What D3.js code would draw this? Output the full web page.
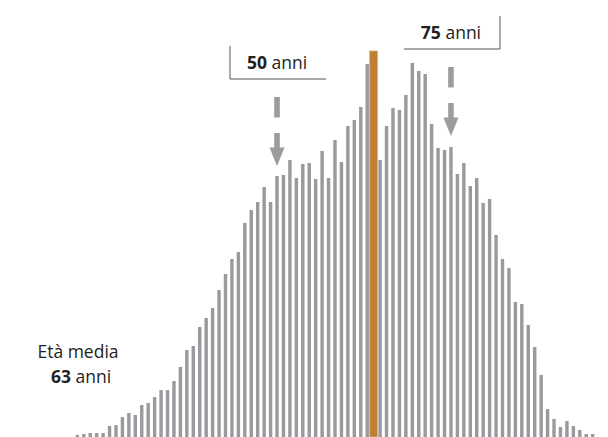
<!DOCTYPE html>
<html>
<head>
<meta charset="utf-8">
<script src="https://cdn.jsdelivr.net/npm/d3@7"></script>
<style>
  html, body { margin: 0; padding: 0; background: #fff; }
  svg { display: block; font-family: "Open Sans", "Noto Sans", sans-serif; }
</style>
</head>
<body>
<svg id="chart" width="608" height="437"></svg>
<script>
// Ages (one bar per year)
const ages = [17,18,19,20,21,22,23,24,25,26,27,28,29,30,31,32,33,34,35,36,37,38,39,40,
  41,42,43,44,45,46,47,48,49,50,51,52,53,54,55,56,57,58,59,60,61,62,63,64,65,66,67,68,
  69,70,71,72,73,74,75,76,77,78,79,80,81,82,83,84,85,86,87,88,89,90,91,92,93,94,95,96,97];
// Relative frequency for each age (arbitrary units)
const counts = [2,3,4,4,4,11,12,20,24,22,32,34,40,47,47,56,70,87,91,110,119,129,147,163,
  178,185,214,227,235,250,235,261,262,277,259,273,274,258,286,259,297,275,311,317,330,373,
  386,277,311,329,327,342,374,366,363,313,289,287,290,263,274,251,259,234,238,202,178,169,
  135,133,112,90,62,28,18,10,16,11,7,3,3];
const meanAge = 63;
const meanLabel = ["Età media", "63", " anni"];
// Annotations: age pointed at, label, level of the arrow tip (same units as counts)
const annoAges = [48, 75];
const annoLabels = ["50", "75"];
const annoLevels = [271, 301];
const annoSides = ["left", "right"];

const W = 608, H = 437;
const svg = d3.select("#chart");

const x = d3.scaleBand().domain(ages).range([74.1, 595.9]).paddingInner(0.47).paddingOuter(0.235);
const y = d3.scaleLinear().domain([0, 386]).range([437, 51]);

const grey = "#9a9a9e";
const data = ages.map((a, i) => ({age: a, v: counts[i]}));

svg.append("g").selectAll("rect")
  .data(data.filter(d => d.age !== meanAge))
  .join("rect")
  .attr("x", d => x(d.age))
  .attr("y", d => y(d.v))
  .attr("width", x.bandwidth())
  .attr("height", d => y(0) - y(d.v))
  .attr("fill", grey);

// Mean bar highlighted
const md = data.find(d => d.age === meanAge);
const mcx = x(meanAge) + x.bandwidth() / 2;
svg.append("rect")
  .attr("x", mcx - 4)
  .attr("y", y(md.v))
  .attr("width", 8)
  .attr("height", y(0) - y(md.v))
  .attr("fill", "#c17f35")
  .attr("stroke", "#dcb080")
  .attr("stroke-width", 0.8);

// Annotations
const ann = svg.append("g");
annoAges.forEach((a, i) => {
  const cx = x(a) + x.bandwidth() / 2;
  const tip = y(annoLevels[i]);
  const aCol = "#9c9ca0";
  // arrow head
  ann.append("path")
    .attr("d", `M${cx - 7.5},${tip - 18.5} L${cx + 7.5},${tip - 18.5} L${cx},${tip} Z`)
    .attr("fill", aCol);
  // shaft pieces (dashed)
  ann.append("rect").attr("x", cx - 2.8).attr("y", tip - 33).attr("width", 5.6).attr("height", 15).attr("fill", aCol);
  ann.append("rect").attr("x", cx - 2.8).attr("y", tip - 69).attr("width", 5.6).attr("height", 20.5).attr("fill", aCol);
  // label box lines
  const bottom = tip - 87;
  const left = cx - 47, right = cx + 49;
  const vx = annoSides[i] === "left" ? left : right;
  ann.append("path")
    .attr("d", `M${vx},${bottom - 33} L${vx},${bottom} M${left},${bottom} L${right},${bottom}`)
    .attr("fill", "none")
    .attr("stroke", "#555")
    .attr("stroke-width", 1);
  const t = ann.append("text")
    .attr("x", cx).attr("y", bottom - 10)
    .attr("text-anchor", "middle")
    .attr("font-size", 17.5)
    .attr("fill", "#222");
  t.append("tspan").attr("font-weight", "bold").text(annoLabels[i]);
  t.append("tspan").text(" anni");
});

// Mean label
const ml = svg.append("g").attr("fill", "#222").attr("font-size", 17.5).attr("text-anchor", "middle");
ml.append("text").attr("x", 78).attr("y", 358).text(meanLabel[0]);
const t2 = ml.append("text").attr("x", 81).attr("y", 383);
t2.append("tspan").attr("font-weight", "bold").text(meanLabel[1]);
t2.append("tspan").text(meanLabel[2]);
</script>
</body>
</html>
